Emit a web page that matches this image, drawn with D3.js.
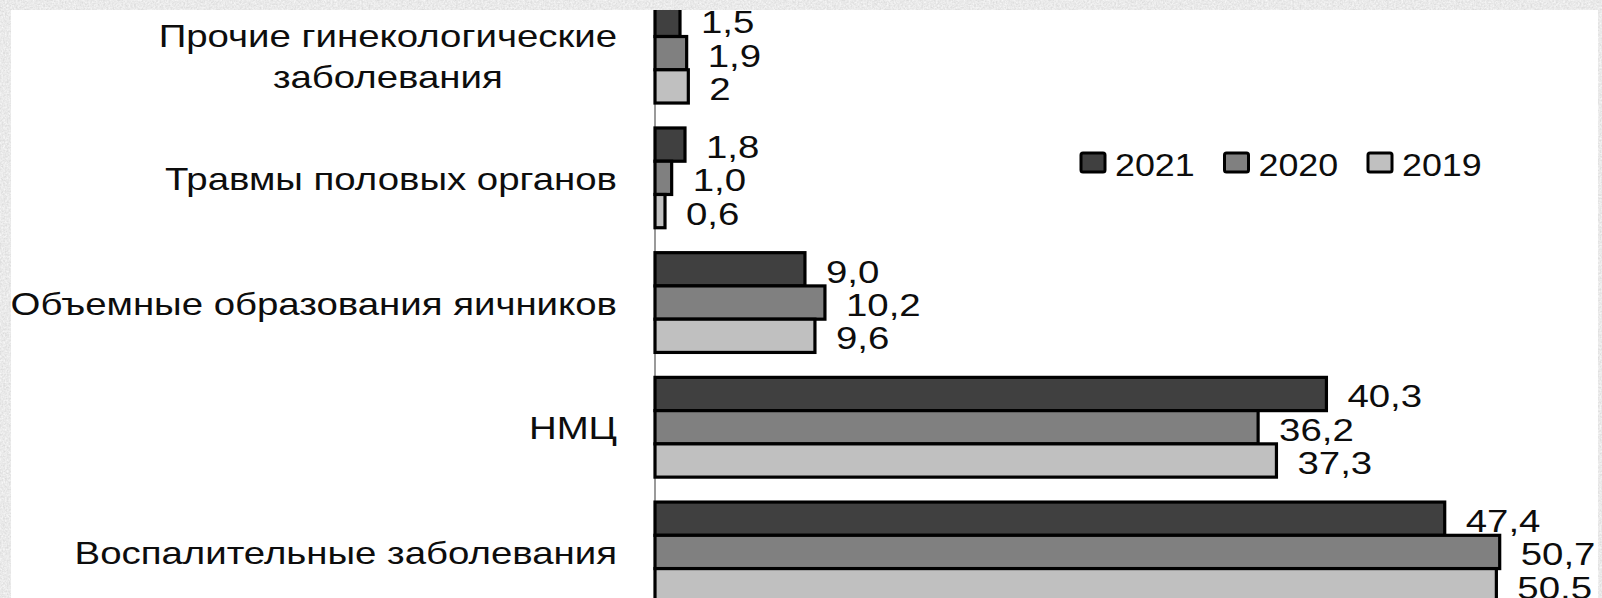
<!DOCTYPE html>
<html>
<head>
<meta charset="utf-8">
<script src="https://cdn.jsdelivr.net/npm/d3@7"></script>
<style>
    html, body { margin: 0; padding: 0; background: #d9d9d9; }
    svg { display: block; font-family: "Liberation Sans", Arial, sans-serif; }
</style>
</head>
<body>
<div id="chart"></div>
<script>
// categories top to bottom; two-line label split by \n
const categories = [
    'Прочие гинекологические\nзаболевания',
    'Травмы половых органов',
    'Объемные образования яичников',
    'НМЦ',
    'Воспалительные заболевания'
];
const years = ['2021', '2020', '2019'];
const values2021 = [1.5, 1.8, 9.0, 40.3, 47.4];
const values2020 = [1.9, 1.0, 10.2, 36.2, 50.7];
const values2019 = [2.0, 0.6, 9.6, 37.3, 50.5];
const labels2021 = ['1,5', '1,8', '9,0', '40,3', '47,4'];
const labels2020 = ['1,9', '1,0', '10,2', '36,2', '50,7'];
const labels2019 = ['2', '0,6', '9,6', '37,3', '50,5'];
const yearColors = ['#404040', '#808080', '#c0c0c0'];

const width = 1602;
const height = 598;
const panel = { left: 11, top: 10, right: 1598, bottom: 598 };
const FONT = 32;
const SX = 1.2; // glyphs in the source look horizontally stretched

const seriesValues = [values2021, values2020, values2019];
const seriesLabels = [labels2021, labels2020, labels2019];
const rows = [];
categories.forEach((category, i) => {
    years.forEach((year, j) => {
        rows.push({ category, year, color: yearColors[j], value: seriesValues[j][i], label: seriesLabels[j][i] });
    });
});

const svg = d3.select('#chart').append('svg')
    .attr('width', width)
    .attr('height', height);

const defs = svg.append('defs');
const grain = defs.append('filter').attr('id', 'grain').attr('x', 0).attr('y', 0).attr('width', '100%').attr('height', '100%');
grain.append('feTurbulence')
    .attr('type', 'fractalNoise')
    .attr('baseFrequency', 0.55)
    .attr('numOctaves', 3)
    .attr('seed', 4);
grain.append('feColorMatrix')
    .attr('type', 'matrix')
    .attr('values', '0.32 0 0 0 0.66  0.32 0 0 0 0.66  0.32 0 0 0 0.66  0 0 0 0 1');
defs.append('clipPath').attr('id', 'panel-clip')
    .append('rect')
    .attr('x', panel.left)
    .attr('y', panel.top)
    .attr('width', panel.right - panel.left)
    .attr('height', panel.bottom - panel.top);

svg.append('rect').attr('width', width).attr('height', height).attr('filter', 'url(#grain)');
svg.append('rect')
    .attr('x', panel.left)
    .attr('y', panel.top)
    .attr('width', panel.right - panel.left)
    .attr('height', panel.bottom - panel.top)
    .attr('fill', '#ffffff');

const plot = svg.append('g').attr('clip-path', 'url(#panel-clip)');

const xScale = d3.scaleLinear().domain([0, 56]).range([655, 1588]);

const yScale = d3.scaleBand()
    .domain(categories)
    .range([-9.2, 614.3])
    .paddingInner(0.2)
    .paddingOuter(0.1);

const subScale = d3.scaleBand()
    .domain(years)
    .range([0, yScale.bandwidth()]);

// vertical axis line
plot.append('line')
    .attr('x1', xScale(0))
    .attr('x2', xScale(0))
    .attr('y1', panel.top)
    .attr('y2', panel.bottom)
    .attr('stroke', '#9a9a9a')
    .attr('stroke-width', 2);

plot.selectAll('.bar')
    .data(rows)
    .enter()
    .append('rect')
    .attr('class', 'bar')
    .attr('x', xScale(0))
    .attr('y', (d) => yScale(d.category) + subScale(d.year))
    .attr('width', (d) => xScale(d.value) - xScale(0))
    .attr('height', subScale.bandwidth())
    .attr('fill', (d) => d.color)
    .attr('stroke', '#000')
    .attr('stroke-width', 3.2);

function stretchedText(parent, x, y, text, anchor, size, sx = SX) {
    return parent.append('text')
        .attr('transform', `translate(${x},${y}) scale(${sx},1)`)
        .attr('text-anchor', anchor)
        .attr('font-size', size)
        .attr('fill', '#0d0d0d')
        .text(text);
}

// value labels
rows.forEach((d) => {
    const cy = yScale(d.category) + subScale(d.year) + subScale.bandwidth() / 2;
    stretchedText(plot, xScale(d.value) + 21, cy + 13.5, d.label, 'start', FONT);
});

// category labels, right aligned block, lines centred within it
const labelRight = 617;
categories.forEach((category) => {
    const lines = category.split('\n');
    const cy = yScale(category) + yScale.bandwidth() / 2;
    const baseOffset = lines.length > 1 ? 14 : 12;
    const baselineAt = (k) => cy + baseOffset + (k - (lines.length - 1) / 2) * 41;
    const group = plot.append('g');
    const texts = lines.map((line, k) => stretchedText(group, 0, baselineAt(k), line, 'middle', FONT));
    const blockWidth = d3.max(texts, (t) => t.node().getComputedTextLength()) * SX;
    texts.forEach((t, k) => {
        t.attr('transform', `translate(${labelRight - blockWidth / 2},${baselineAt(k)}) scale(${SX},1)`);
    });
});

// legend
const legend = svg.append('g').attr('transform', 'translate(1081,153)');
years.forEach((year, j) => {
    const item = legend.append('g').attr('transform', `translate(${j * 143.5},0)`);
    item.append('rect')
        .attr('width', 24)
        .attr('height', 19)
        .attr('rx', 2)
        .attr('fill', yearColors[j])
        .attr('stroke', '#000')
        .attr('stroke-width', 3);
    stretchedText(item, 34, 22.5, year, 'start', FONT, 1.12);
});
</script>
</body>
</html>
